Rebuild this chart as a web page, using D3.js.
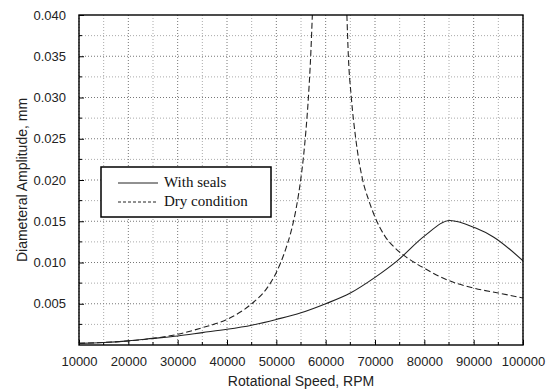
<!DOCTYPE html>
<html>
<head>
<meta charset="utf-8">
<script src="https://cdn.jsdelivr.net/npm/d3@7"></script>
<style>
  body { margin: 0; background: #fff; }
  svg { display: block; }
  .tick text { font-family: "Liberation Sans", Arial, sans-serif; font-size: 13px; fill: #222; }
</style>
</head>
<body>
<div id="chart"></div>
<script>
/*chart data*/
var xTicks = [10000, 20000, 30000, 40000, 50000, 60000, 70000, 80000, 90000, 100000];
var yTicks = [0.005, 0.010, 0.015, 0.020, 0.025, 0.030, 0.035, 0.040];

var sealSpeed = [10000, 15000, 20000, 25000, 30000, 35000, 40000, 45000, 50000, 55000, 60000, 65000, 70000, 74500, 80000, 85200, 90300, 94000, 100000];
var sealAmp   = [0.0002, 0.0003, 0.0005, 0.0008, 0.0011, 0.0015, 0.0019, 0.0024, 0.0031, 0.0039, 0.0050, 0.0063, 0.0082, 0.0102, 0.0132, 0.0151, 0.0142, 0.0131, 0.0102];

/*dry condition has a resonance peak off the chart; null breaks the curve*/
var drySpeed = [10000, 20000, 25000, 30000, 35000, 40000, 45000, 48000, 50000, 52000, 53000, 54000, 55000, 55500, 56000, 56500, 57000, 57300,
                60500,
                64300, 64600, 65200, 66100, 67500, 68700, 70000, 72000, 74000, 76000, 78000, 80000, 85000, 90000, 95000, 100000];
var dryAmp   = [0.0002, 0.0005, 0.0008, 0.0013, 0.0021, 0.0031, 0.0050, 0.0068, 0.0088, 0.0118, 0.0138, 0.0165, 0.0203, 0.0228, 0.0260, 0.0300, 0.0355, 0.0400,
                null,
                0.0400, 0.0350, 0.0300, 0.0250, 0.0200, 0.0176, 0.0155, 0.0132, 0.0118, 0.0108, 0.0100, 0.0093, 0.0078, 0.0069, 0.0063, 0.0057];

var seriesNames = ["With seals", "Dry condition"];

/*svg size and plot area*/
var svgWidth = 556;
var svgHeight = 391;
var margin = { top: 15, right: 33, bottom: 46, left: 79 };
var width = svgWidth - margin.left - margin.right;
var height = svgHeight - margin.top - margin.bottom;

var svg = d3.select("#chart").append("svg")
  .attr("width", svgWidth)
  .attr("height", svgHeight);

var g = svg.append("g")
  .attr("transform", `translate(${margin.left}, ${margin.top})`);

var xScale = d3.scaleLinear().domain([10000, 100000]).range([0, width]);
var yScale = d3.scaleLinear().domain([0, 0.04]).range([height, 0]);

/*dotted grid at major and minor steps*/
var xGrid = d3.range(10000, 100001, 5000);
var yGrid = d3.range(0.0025, 0.04, 0.0025);

g.append("g").selectAll("line").data(xGrid).enter().append("line")
  .attr("x1", d => xScale(d)).attr("x2", d => xScale(d))
  .attr("y1", 0).attr("y2", height)
  .attr("stroke", (d, i) => i % 2 === 0 ? "#777" : "#aaa")
  .attr("stroke-width", 1)
  .attr("stroke-dasharray", "1,2");

g.append("g").selectAll("line").data(yGrid).enter().append("line")
  .attr("x1", 0).attr("x2", width)
  .attr("y1", d => yScale(d)).attr("y2", d => yScale(d))
  .attr("stroke", (d, i) => i % 2 === 1 ? "#777" : "#aaa")
  .attr("stroke-width", 1)
  .attr("stroke-dasharray", "1,2");

/*axes with inward ticks*/
var bottomAxis = d3.axisBottom(xScale).tickValues(xTicks).tickFormat(d3.format("d"))
  .tickSizeInner(-5).tickSizeOuter(0).tickPadding(12);
var leftAxis = d3.axisLeft(yScale).tickValues(yTicks).tickFormat(d3.format(".3f"))
  .tickSizeInner(-5).tickSizeOuter(0).tickPadding(13);

var xAxisG = g.append("g").attr("transform", `translate(0,${height})`).call(bottomAxis);
var yAxisG = g.append("g").call(leftAxis);
[xAxisG, yAxisG].forEach(function(a) {
  a.select(".domain").remove();
  a.selectAll(".tick line").attr("stroke", "#000");
});

/*minor ticks*/
g.append("g").selectAll("line").data(d3.range(15000, 100000, 10000)).enter().append("line")
  .attr("x1", d => xScale(d)).attr("x2", d => xScale(d))
  .attr("y1", height).attr("y2", height - 3).attr("stroke", "#000");
g.append("g").selectAll("line").data(d3.range(0.0025, 0.04, 0.005)).enter().append("line")
  .attr("x1", 0).attr("x2", 3)
  .attr("y1", d => yScale(d)).attr("y2", d => yScale(d)).attr("stroke", "#000");

/*clip curves to plot area*/
svg.append("defs").append("clipPath").attr("id", "plotClip")
  .append("rect").attr("width", width).attr("height", height);

var line = d3.line()
  .defined(d => d[1] !== null)
  .x(d => xScale(d[0]))
  .y(d => yScale(d[1]))
  .curve(d3.curveMonotoneX);

var curves = g.append("g").attr("clip-path", "url(#plotClip)");

curves.append("path")
  .datum(d3.zip(sealSpeed, sealAmp))
  .attr("d", line)
  .attr("fill", "none")
  .attr("stroke", "#222")
  .attr("stroke-width", 1.1);

curves.append("path")
  .datum(d3.zip(drySpeed, dryAmp))
  .attr("d", line)
  .attr("fill", "none")
  .attr("stroke", "#222")
  .attr("stroke-width", 1.1)
  .attr("stroke-dasharray", "6,3");

/*frame*/
g.append("rect")
  .attr("width", width).attr("height", height)
  .attr("fill", "none").attr("stroke", "#000").attr("stroke-width", 1.4);

/*axis labels*/
svg.append("text")
  .attr("x", margin.left + width / 2)
  .attr("y", 386)
  .attr("text-anchor", "middle")
  .style("font-family", "Liberation Sans, Arial, sans-serif")
  .style("font-size", "14px")
  .attr("fill", "#222")
  .text("Rotational Speed, RPM");

svg.append("text")
  .attr("transform", `translate(27, ${margin.top + height / 2}) rotate(-90)`)
  .attr("text-anchor", "middle")
  .style("font-family", "Liberation Sans, Arial, sans-serif")
  .style("font-size", "14px")
  .attr("fill", "#222")
  .text("Diameteral Amplitude, mm");

/*legend*/
var legend = svg.append("g").attr("transform", "translate(101,167)");
legend.append("rect")
  .attr("width", 170).attr("height", 50)
  .attr("fill", "#fff").attr("stroke", "#000").attr("stroke-width", 1.5);

var legendItems = legend.selectAll(".item").data(seriesNames).enter().append("g")
  .attr("class", "item")
  .attr("transform", (d, i) => `translate(0, ${16 + i * 19})`);

legendItems.append("line")
  .attr("x1", 17).attr("x2", 57)
  .attr("stroke", "#222").attr("stroke-width", 1)
  .attr("stroke-dasharray", (d, i) => i === 0 ? null : "3,2");

legendItems.append("text")
  .attr("x", 63).attr("y", 4)
  .style("font-family", "Liberation Serif, Times New Roman, serif")
  .style("font-size", "15px")
  .attr("fill", "#111")
  .text(d => d);
</script>
</body>
</html>
